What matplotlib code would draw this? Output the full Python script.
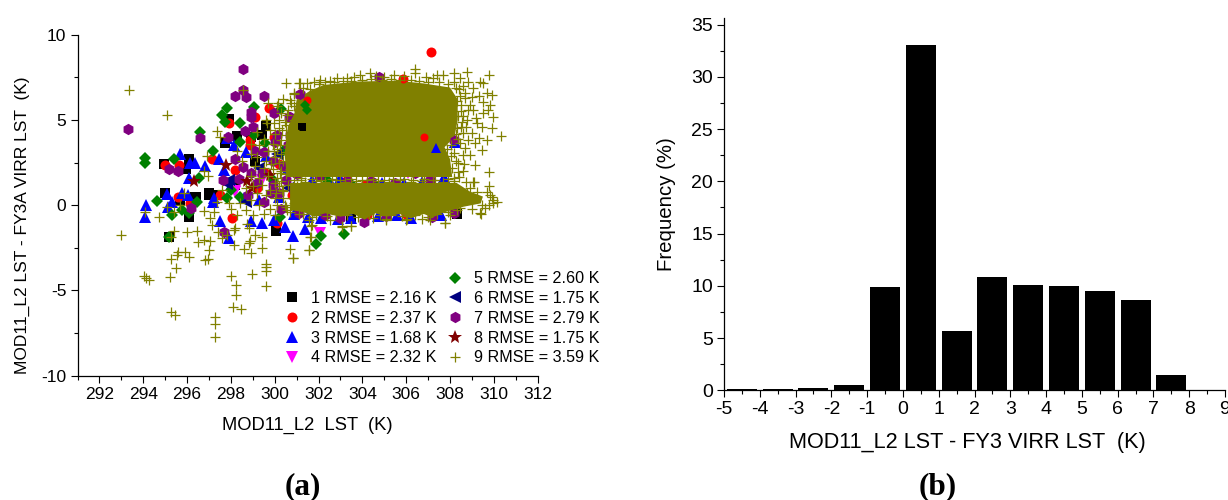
import matplotlib
matplotlib.use('Agg')
import matplotlib.pyplot as plt
import numpy as np

plt.rcParams['font.family'] = ['Liberation Sans', 'DejaVu Sans']
plt.rcParams['axes.unicode_minus'] = False

# scatter points, (x, y) in K
s1 = [(299.6,4.66),(297.9,5.05),(298.28,4.05),(297.74,3.62),(296.07,2.7),(294.93,2.41),(295.97,2.12),
      (299.42,4.11),(301.24,4.6),(297.02,0.69),(296.38,0.49),(295.7,0.3),(296.07,-0.68),(296.41,0.45),
      (297.02,0.59),(295.16,-1.85),(300.07,-1.5),(298.9,4.0),(301.9,4.7),(308.3,-0.5),(303.5,-0.7),
      (299.1,2.6),(298.2,1.2),(295.0,0.7),(297.3,0.6)]
s2 = [(299.72,5.68),(297.93,4.84),(299.11,5.15),(298.89,3.82),(298.85,3.53),(297.14,2.68),(294.98,2.35),
      (295.65,2.35),(298.2,2.06),(299.49,1.96),(299.98,4.01),(301.47,6.17),(307.12,9.0),(305.85,7.38),
      (306.79,4.01),(304.13,1.18),(298.05,-0.78),(300.1,-1.07),(296.15,0.1),(297.52,0.59),(295.6,0.5),
      (300.2,2.4),(300.8,0.6),(306.0,-0.5),(299.2,1.0),(303.3,1.5),(304.2,-0.6)]
s3 = [(295.66,3.0),(296.15,2.45),(296.38,2.45),(296.83,2.31),(296.07,1.57),(297.44,2.68),(297.82,3.92),
      (298.13,3.53),(298.69,3.13),(297.67,2.06),(298.05,1.27),(295.09,0.65),(295.77,0.69),(296.03,0.59),
      (297.21,0.39),(294.13,0.0),(294.07,-0.72),(295.31,0.2),(295.12,-0.09),(297.17,0.2),(297.52,-0.91),
      (297.93,-1.91),(298.94,-0.91),(299.42,-1.07),(299.95,-0.88),(300.48,-1.31),(300.83,-1.81),
      (301.36,-1.4),(308.23,3.72),(302.61,1.18),(305.88,1.27),(307.73,1.67),(307.35,3.33),(306.71,1.37),
      (301.7,1.47),(302.1,-0.75),(302.9,-0.8),(303.5,-0.75),(306.2,-0.75),(307.6,-0.6),(300.2,0.5),
      (299.6,2.9),(300.6,2.2),(299.3,0.3),(300.9,-0.5),(298.6,0.4),(304.9,1.3),(303.0,1.6),
      (304.7,-0.65),(305.6,-0.6),(301.5,-0.7)]
s4 = [(298.2,0.84),(298.2,0.79),(302.05,-1.66),(306.1,1.86),(299.4,1.5)]
s5 = [(294.07,2.78),(294.07,2.45),(295.39,2.7),(296.53,1.57),(297.17,3.17),(296.58,4.27),(297.82,5.68),
      (297.59,5.29),(297.75,4.89),(298.43,4.8),(299.04,5.73),(300.3,5.64),(298.43,3.68),(299.57,3.62),
      (299.04,4.11),(294.63,0.24),(295.31,-0.58),(295.16,-1.85),(295.77,-0.29),(296.07,-0.48),
      (296.45,0.2),(297.82,0.4),(300.25,-0.68),(302.13,-1.81),(301.9,-2.3),(303.14,-1.72),(301.39,5.87),
      (301.47,5.58),(298.0,0.9),(298.4,0.5),(300.4,3.2),(299.9,1.5),(302.4,1.5),(303.5,1.25),(304.6,1.1)]
s6 = [(297.9,1.47),(297.8,1.25),(299.3,2.2),(300.6,1.0),(298.7,0.2),(300.1,3.0)]
s7 = [(298.55,7.99),(293.31,4.46),(298.17,6.42),(298.55,6.75),(298.69,6.34),(299.52,6.4),(298.93,5.48),
      (298.93,5.15),(299.01,4.6),(298.63,4.35),(296.58,3.95),(297.87,3.97),(295.16,2.12),(295.57,2.0),
      (298.17,2.68),(298.54,2.23),(299.11,3.19),(297.64,1.47),(298.38,1.53),(299.19,1.27),(300.1,4.11),
      (300.0,3.72),(300.63,5.19),(301.17,6.46),(299.95,5.38),(299.84,0.69),(300.2,0.69),(297.67,-1.6),
      (296.2,-0.19),(304.74,7.54),(301.14,6.52),(300.7,5.19),(308.16,3.82),(304.06,-0.97),(301.09,-0.48),
      (307.17,-0.68),(308.16,-0.48),(302.3,-0.6),(300.6,3.5),(299.5,3.1),(299.9,2.6),(300.4,2.3),
      (300.8,2.9),(299.4,1.9),(299.9,1.2),(300.5,1.5),(300.9,0.9),(299.5,0.2),(300.3,-0.2),(298.8,0.6),
      (298.9,1.9),(300.7,4.1),(301.0,3.3),(301.0,1.8),(302.0,1.7),(303.3,1.4),(304.4,1.4),(305.5,1.3),
      (306.4,1.9),(307.1,1.5),(305.1,-0.65),(303.0,-0.75)]
s8 = [(296.3,1.41),(297.79,2.35),(298.73,1.41),(298.96,0.98),(299.8,1.76)]
s9 = [(293.35,6.77),(295.07,5.31),(297.37,4.37),(297.49,4.01),(296.91,2.88),(296.79,2.0),(296.95,1.71),
      (298.57,6.77),(300.53,7.14),(301.13,7.14),(301.47,7.14),(300.71,6.17),(300.86,5.81),(299.65,4.8),
      (293.0,-1.78),(294.07,-0.39),(294.74,-0.68),(295.09,-0.09),(295.42,-1.5),(295.27,-1.85),
      (295.57,-2.73),(295.92,-2.73),(295.54,-2.93),(295.28,-3.17),(296.07,-3.03),(295.5,-3.67),
      (295.24,-4.22),(294.02,-4.16),(294.14,-4.3),(294.25,-4.4),(295.27,-6.26),(295.45,-6.45),
      (297.26,-6.59),(297.29,-6.96),(297.29,-7.76),(298.08,-5.98),(298.46,-6.1),(298.25,-5.26),
      (298.25,-4.69),(297.99,-4.18),(299.58,-4.77),(298.96,-4.03),(299.58,-3.46),(299.58,-3.65),
      (299.58,-3.85),(300.82,-3.11),(300.71,-2.6),(301.55,-2.64),(299.42,-2.54),(298.93,-2.79),
      (298.61,-2.6),(298.81,-2.25),(298.89,-2.09),(299.42,-1.89),(298.16,-2.34),(296.99,-2.64),
      (296.83,-3.24),(296.95,-3.18),(296.48,-2.19),(296.79,-2.05),(297.03,-2.09),(296.0,-1.56),
      (296.45,-1.52),(297.4,-1.6),(297.59,-1.95),(297.82,-1.76),(298.13,-1.46),(298.2,-1.36),
      (298.81,-1.36),(299.12,-1.76),(298.73,-1.11),(297.14,-1.17),(297.06,-0.78),(297.21,-0.39),
      (296.76,-0.33),(297.37,0.2),(295.39,-0.39),(295.7,0.0),(295.85,0.69),
      (301.65,-1.85),(301.65,-1.21),(303.07,-1.23),(303.49,-1.23),(305.07,-0.88),(305.99,-0.88),
      (307.75,-1.07),(309.41,-0.52),(309.6,-0.19),(309.98,0.3),(309.98,0.1),(309.83,0.59)]
# upper edge and right edge of the cloud
s9_edge = [(310.31,4.07),(309.78,7.61),(308.76,7.79),(308.19,7.73),(306.38,7.97),(306.38,7.77),(305.44,7.63),
           (304.36,7.73),(303.9,7.63),(303.29,7.44),(302.84,7.44),(302.08,7.34),(301.77,7.24),(301.17,7.14),
           (309.9,6.46),(309.52,7.14),(309.37,7.24),(308.84,7.24),(308.46,7.44),(307.4,7.63),(307.7,7.63),
           (309.07,6.85),(309.68,6.56),(309.83,5.87),(309.98,5.15),(309.9,4.5),(309.68,3.82),(309.45,3.23),
           (309.14,3.62),(308.92,2.94),(309.14,2.35),(308.61,2.94),(308.38,2.45),(309.78,1.96),(308.43,1.67),
           (309.78,1.14),(308.72,1.33),(309.1,1.33),(309.3,3.92),(308.76,4.99),(309.22,4.8),(308.61,4.21),
           (309.07,5.58),(309.52,5.38),(308.69,6.27),(308.99,6.36),(309.52,6.07),(309.75,5.58),(309.45,4.6),
           (308.99,4.21),(308.46,3.62),(308.69,3.33),(308.16,3.04),(308.4,6.8),(308.6,7.0),(308.2,7.2),
           (307.2,7.45),(306.9,7.5),(305.9,7.55),(305.0,7.5),(304.6,7.6),(303.6,7.5),(302.5,7.3),(308.5,5.9),
           (308.6,5.2),(308.5,4.6),(308.9,5.9),(309.3,6.4),(309.2,5.1),(310.13,0.2),(309.9,0.49),(309.68,0.79),
           (309.22,0.79),(308.92,0.98),(308.77,0.69),(308.31,0.89),(309.45,0.0),(309.37,-0.48),(308.46,-0.19),
           (309.07,1.33),(307.75,-1.07),(306.03,-0.84),(305.09,-0.84),(303.48,-1.23),(303.07,-1.27),
           (301.62,-1.85),(301.55,-2.64),(301.7,-1.17),(301.7,-0.68),(300.82,-3.13),(301.55,-0.9),(302.5,-0.9),
           (304.5,-0.75),(306.7,-0.8),(307.1,-0.9),(308.0,-0.6),(309.0,-0.2),(309.8,0.0),
           (300.9,6.6),(301.3,6.9),(301.6,6.8),(302.0,7.1),(302.3,7.2),(302.7,7.25),(303.1,7.3),(303.5,7.3),
           (304.0,7.35),(304.4,7.4),(304.9,7.35),(305.3,7.4),(305.7,7.35),(306.2,7.35),(306.6,7.3),(307.0,7.25),
           (307.5,7.2),(307.9,7.1),(308.25,6.9),(308.45,6.4),(308.3,6.1),(308.5,5.5),(308.35,5.2),(308.55,4.85),
           (308.3,4.5),(308.25,4.2),(308.35,3.9),(308.05,3.55),(307.85,3.3),(308.05,2.9),(308.25,2.6),(308.1,2.2),
           (308.35,1.95),(308.7,6.6),(308.8,5.6),(308.75,4.6),(308.8,3.8),(308.65,2.4),(308.6,2.0),
           (301.3,-0.55),(301.9,-0.6),(302.4,-0.65),(302.8,-0.55),(303.3,-0.6),(303.8,-0.7),(304.3,-0.55),
           (304.8,-0.6),(305.3,-0.6),(305.8,-0.65),(306.4,-0.6),(307.0,-0.7),(307.4,-0.55),(307.9,-0.4),(308.3,-0.3)]
# band between the two lobes, pluses only partly cover what is under them
s9_gap = [(301.4,1.35),(301.9,1.4),(302.3,1.35),(302.8,1.45),(303.2,1.35),(303.7,1.4),(304.2,1.45),(304.7,1.4),
          (305.2,1.35),(305.7,1.45),(306.2,1.35),(306.7,1.4),(307.2,1.45),(307.7,1.35),(308.2,1.4),
          (301.2,1.5),(301.7,1.55),(302.1,1.5),(302.6,1.55),(303.0,1.5),(303.5,1.55),(304.0,1.5),(304.5,1.55),
          (305.0,1.5),(305.4,1.55),(305.9,1.55),(306.3,1.5),(306.8,1.55),(307.3,1.5),(307.9,1.55),(308.2,1.6)]
# left side of the cloud
s9_left = [(299.7,6.0),(300.1,5.8),(300.4,6.2),(300.6,5.6),(300.9,6.5),(300.2,5.0),(300.5,4.7),(300.9,5.0),
           (299.8,4.4),(300.2,4.5),(300.5,4.1),(300.9,4.4),(299.5,3.9),(299.9,3.6),(300.3,3.8),(300.7,3.6),
           (301.0,3.9),(299.3,3.5),(299.7,3.2),(300.1,3.3),(300.5,3.1),(300.9,3.0),(299.2,2.8),(299.6,2.6),
           (300.0,2.8),(300.4,2.6),(300.8,2.5),(301.1,2.7),(299.1,2.3),(299.5,2.2),(299.9,2.1),(300.3,2.0),
           (300.7,2.1),(301.1,2.2),(298.9,1.7),(299.3,1.6),(299.7,1.7),(300.1,1.6),(300.5,1.8),(300.9,1.5),
           (301.2,1.6),(299.0,1.1),(299.4,1.2),(299.8,0.9),(300.2,1.1),(300.6,1.2),(301.0,1.1),(299.2,0.7),
           (299.6,0.6),(300.0,0.4),(300.4,0.8),(300.8,0.4),(301.1,0.7),(298.9,0.3),(299.3,0.0),(299.8,-0.2),
           (300.1,0.0),(300.5,-0.1),(300.9,0.1),(301.2,-0.1),(299.5,-0.5),(300.0,-0.6),(300.7,-0.4),(301.1,-0.5),
           (298.7,1.0),(298.4,0.1),(298.0,-0.2),(298.3,-0.6),(298.7,-0.3),(299.0,-0.6),(297.6,0.9),(297.9,0.1),
           (298.5,2.6),(298.9,3.0),(298.3,3.2),(299.2,4.3),(299.6,5.0),(298.9,3.6),
           (300.3,5.4),(300.45,4.9),(300.35,4.4),(300.25,3.5),(300.3,3.0),(300.2,2.5),(300.25,1.9),(300.3,1.4),
           (300.35,0.9),(300.4,0.4),(300.45,0.0),(300.55,-0.3),(299.95,3.2),(299.85,2.4),(300.0,1.3),(300.05,0.7),
           (300.15,6.0),(300.75,6.0),(300.55,5.3),(299.95,4.8),(300.0,4.2)]

# region where the olive pluses overlap completely and single points can't be read
upper_core_x = [300.55,300.45,300.6,300.9,301.0,301.6,302.23,303.75,305.57,306.79,308.0,308.35,308.35,308.2,307.75,308.0,308.1,300.55]
upper_core_y = [1.65,3.0,4.6,5.4,6.2,6.7,7.05,7.25,7.3,7.14,6.9,6.2,5.0,4.0,3.4,2.7,1.65,1.65]
lower_core_x = [300.7,308.3,308.9,309.5,309.4,308.6,307.8,307.2,306.8,306.2,305.7,305.1,304.6,304.1,303.6,303.0,302.3,301.8,301.3,300.7]
lower_core_y = [1.3,1.3,0.8,0.5,0.1,-0.1,-0.4,-0.72,-0.52,-0.78,-0.52,-0.68,-0.48,-0.85,-0.52,-0.68,-0.48,-0.68,-0.4,-0.3]
# points that stay visible on top of the saturated region
visible_in_core = [(301.39,5.87),(301.47,5.58),(301.24,4.6),(301.47,6.17),(301.17,6.46),(301.14,6.52),
                   (304.74,7.54),(305.85,7.38),(308.23,3.72),(308.16,3.82),(306.79,4.01),(307.35,3.33)]

rmse_labels = ['1 RMSE = 2.16 K', '2 RMSE = 2.37 K', '3 RMSE = 1.68 K', '4 RMSE = 2.32 K', '5 RMSE = 2.60 K',
               '6 RMSE = 1.75 K', '7 RMSE = 2.79 K', '8 RMSE = 1.75 K', '9 RMSE = 3.59 K']

# histogram of panel (b)
bin_centers = [-4.5, -3.5, -2.5, -1.5, -0.5, 0.5, 1.5, 2.5, 3.5, 4.5, 5.5, 6.5, 7.5, 8.5]
freq = [0.1, 0.1, 0.2, 0.5, 9.9, 33.0, 5.7, 10.8, 10.1, 10.0, 9.5, 8.6, 1.5, 0.05]

W, H = 1228.0, 500.0
fig = plt.figure(figsize=(12.28, 5.0), dpi=100)
ax1 = fig.add_axes([77.5/W, 1-375.5/H, (537.7-77.5)/W, (375.5-34.7)/H])
ax2 = fig.add_axes([724.0/W, 1-390.3/H, (1225.0-724.0)/W, (390.3-18.3)/H])

styles = [(s1, 's', 'black', 6.5), (s2, 'o', 'red', 7.2), (s3, '^', 'blue', 8.5), (s4, 'v', 'magenta', 8.5),
          (s5, 'D', 'green', 6.2), (s6, '<', 'navy', 8), (s7, 'h', 'purple', 8.2), (s8, '*', 'maroon', 10)]
handles = []
for pts, m, c, ms in styles:
    x, y = zip(*pts)
    h, = ax1.plot(x, y, ls='none', marker=m, color=c, ms=ms, mew=0, zorder=2)
    handles.append(h)
    top = [p for p in pts if p in visible_in_core]
    if top:
        x, y = zip(*top)
        ax1.plot(x, y, ls='none', marker=m, color=c, ms=ms*0.8, mew=0, zorder=3.5)

olive = '#808000'
ax1.fill(upper_core_x, upper_core_y, color=olive, lw=0, zorder=3)
ax1.fill(lower_core_x, lower_core_y, color=olive, lw=0, zorder=3)
x9, y9 = zip(*(s9 + s9_edge + s9_gap + s9_left))
h9, = ax1.plot(x9, y9, ls='none', marker='+', color=olive, ms=7, mew=0.9, zorder=4)
handles.append(h9)

ax1.set_xlim(291, 312)
ax1.set_ylim(-10, 10)
ax1.set_xticks(np.arange(292, 313, 2))
ax1.set_xticks(np.arange(291, 313, 2), minor=True)
ax1.set_yticks([-10, -5, 0, 5, 10])
ax1.set_yticks([-7.5, -2.5, 2.5, 7.5], minor=True)
ax1.set_xlabel('MOD11_L2  LST  (K)', fontsize=13.2, labelpad=11)
ax1.set_ylabel('MOD11_L2 LST - FY3A VIRR LST  (K)', fontsize=12.5)
ax1.yaxis.set_label_coords(-0.1035, 0.44)

leg_kw = dict(frameon=False, fontsize=11.6, handletextpad=0.65, handlelength=1.056, labelspacing=0.30,
              borderpad=0, borderaxespad=0, numpoints=1)
leg1 = ax1.legend(handles[:4], rmse_labels[:4], loc='lower left',
                  bbox_to_anchor=((283.5-77.5)/460.2, (375.5-365.5)/340.8), **leg_kw)
ax1.add_artist(leg1)
ax1.legend(handles[4:], rmse_labels[4:], loc='lower left',
           bbox_to_anchor=((446.5-77.5)/460.2, (375.5-365.5)/340.8), **leg_kw)

ax2.bar(bin_centers, freq, width=0.84, color='black')
ax2.set_xlim(-5, 9)
ax2.set_ylim(0, 35.6)
ax2.set_xticks(np.arange(-5, 10, 1))
ax2.set_xticks(np.arange(-4.5, 9, 1), minor=True)
ax2.set_yticks(np.arange(0, 36, 5))
ax2.set_yticks(np.arange(2.5, 35, 5), minor=True)
ax2.set_xlabel('MOD11_L2 LST - FY3 VIRR LST  (K)', fontsize=15.6, labelpad=10)
ax2.xaxis.label.set_x(0.485)
ax2.set_ylabel('Frequency (%)', fontsize=14.7, labelpad=11)

for ax, fs in ((ax1, 12.5), (ax2, 14)):
    ax.spines['top'].set_visible(False)
    ax.spines['right'].set_visible(False)
    ax.spines['left'].set_linewidth(0.9)
    ax.spines['bottom'].set_linewidth(0.9)
    ax.tick_params(which='major', direction='out', length=5, width=0.8, labelsize=fs, pad=3)
    ax.tick_params(which='minor', direction='out', length=2.6, width=0.8)

fig.text(303/W, 1-487/H, '(a)', family='Liberation Serif', fontweight='bold', fontsize=22.5, ha='center', va='center')
fig.text(938/W, 1-487/H, '(b)', family='Liberation Serif', fontweight='bold', fontsize=22.5, ha='center', va='center')

fig.savefig('out.png', dpi=100)
